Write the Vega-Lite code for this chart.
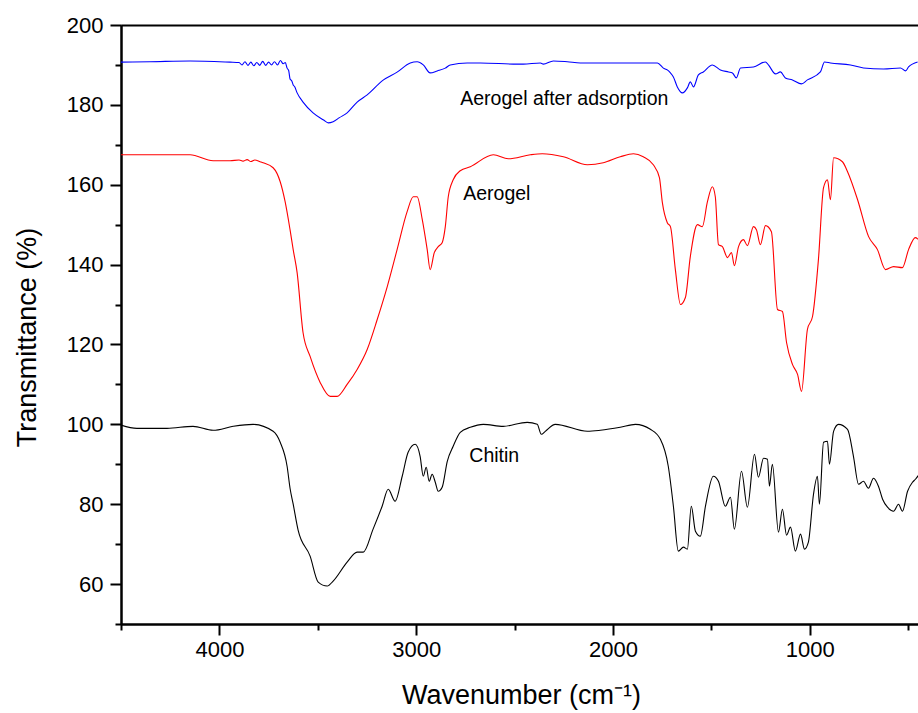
{
  "$schema": "https://vega.github.io/schema/vega-lite/v6.json",
  "width": 797,
  "height": 599,
  "autosize": {"type": "none"},
  "padding": {"left": 121, "top": 25, "right": 0, "bottom": 89},
  "background": "white",
  "config": {
    "view": {"stroke": null},
    "font": "Liberation Sans",
    "axis": {
      "domainColor": "black", "domainWidth": 2, "tickColor": "black", "tickWidth": 2,
      "labelColor": "black", "labelFont": "Liberation Sans", "labelFontSize": 22,
      "titleColor": "black", "titleFont": "Liberation Sans", "titleFontWeight": "normal", "titleFontSize": 27,
      "grid": false
    }
  },
  "datasets": {
    "spectra": [
      {"s":"Aerogel after adsorption","wn":4500,"t":190.7},{"s":"Aerogel after adsorption","wn":4353,"t":190.8},{"s":"Aerogel after adsorption","wn":4149,"t":191.0},{"s":"Aerogel after adsorption","wn":3946,"t":190.7},{"s":"Aerogel after adsorption","wn":3900,"t":190.6},{"s":"Aerogel after adsorption","wn":3885,"t":190.0},{"s":"Aerogel after adsorption","wn":3870,"t":190.8},{"s":"Aerogel after adsorption","wn":3855,"t":189.9},{"s":"Aerogel after adsorption","wn":3840,"t":190.7},{"s":"Aerogel after adsorption","wn":3825,"t":189.8},{"s":"Aerogel after adsorption","wn":3810,"t":190.6},{"s":"Aerogel after adsorption","wn":3795,"t":189.9},{"s":"Aerogel after adsorption","wn":3780,"t":190.9},{"s":"Aerogel after adsorption","wn":3765,"t":189.9},{"s":"Aerogel after adsorption","wn":3750,"t":190.7},{"s":"Aerogel after adsorption","wn":3735,"t":190.0},{"s":"Aerogel after adsorption","wn":3720,"t":190.8},{"s":"Aerogel after adsorption","wn":3705,"t":190.0},{"s":"Aerogel after adsorption","wn":3690,"t":191.1},{"s":"Aerogel after adsorption","wn":3676,"t":190.3},{"s":"Aerogel after adsorption","wn":3665,"t":190.6},{"s":"Aerogel after adsorption","wn":3656,"t":189.2},{"s":"Aerogel after adsorption","wn":3648,"t":188.6},{"s":"Aerogel after adsorption","wn":3641,"t":186.5},{"s":"Aerogel after adsorption","wn":3632,"t":186.0},{"s":"Aerogel after adsorption","wn":3625,"t":185.0},{"s":"Aerogel after adsorption","wn":3618,"t":184.6},{"s":"Aerogel after adsorption","wn":3605,"t":183.0},{"s":"Aerogel after adsorption","wn":3575,"t":180.7},{"s":"Aerogel after adsorption","wn":3524,"t":178.0},{"s":"Aerogel after adsorption","wn":3470,"t":176.2},{"s":"Aerogel after adsorption","wn":3447,"t":175.5},{"s":"Aerogel after adsorption","wn":3422,"t":175.8},{"s":"Aerogel after adsorption","wn":3390,"t":176.8},{"s":"Aerogel after adsorption","wn":3351,"t":178.0},{"s":"Aerogel after adsorption","wn":3300,"t":180.7},{"s":"Aerogel after adsorption","wn":3249,"t":182.5},{"s":"Aerogel after adsorption","wn":3168,"t":186.2},{"s":"Aerogel after adsorption","wn":3097,"t":188.2},{"s":"Aerogel after adsorption","wn":3030,"t":190.5},{"s":"Aerogel after adsorption","wn":2995,"t":190.8},{"s":"Aerogel after adsorption","wn":2964,"t":190.0},{"s":"Aerogel after adsorption","wn":2929,"t":188.0},{"s":"Aerogel after adsorption","wn":2893,"t":188.5},{"s":"Aerogel after adsorption","wn":2852,"t":189.2},{"s":"Aerogel after adsorption","wn":2827,"t":190.0},{"s":"Aerogel after adsorption","wn":2741,"t":190.5},{"s":"Aerogel after adsorption","wn":2674,"t":190.5},{"s":"Aerogel after adsorption","wn":2486,"t":190.2},{"s":"Aerogel after adsorption","wn":2456,"t":190.2},{"s":"Aerogel after adsorption","wn":2369,"t":190.5},{"s":"Aerogel after adsorption","wn":2354,"t":190.2},{"s":"Aerogel after adsorption","wn":2303,"t":191.0},{"s":"Aerogel after adsorption","wn":2232,"t":190.8},{"s":"Aerogel after adsorption","wn":2166,"t":190.5},{"s":"Aerogel after adsorption","wn":2064,"t":190.5},{"s":"Aerogel after adsorption","wn":1998,"t":190.5},{"s":"Aerogel after adsorption","wn":1825,"t":190.5},{"s":"Aerogel after adsorption","wn":1774,"t":190.5},{"s":"Aerogel after adsorption","wn":1744,"t":189.2},{"s":"Aerogel after adsorption","wn":1724,"t":188.75},{"s":"Aerogel after adsorption","wn":1708,"t":188.0},{"s":"Aerogel after adsorption","wn":1693,"t":187.0},{"s":"Aerogel after adsorption","wn":1673,"t":184.5},{"s":"Aerogel after adsorption","wn":1647,"t":183.0},{"s":"Aerogel after adsorption","wn":1622,"t":184.25},{"s":"Aerogel after adsorption","wn":1607,"t":185.75},{"s":"Aerogel after adsorption","wn":1591,"t":184.5},{"s":"Aerogel after adsorption","wn":1566,"t":187.5},{"s":"Aerogel after adsorption","wn":1541,"t":188.25},{"s":"Aerogel after adsorption","wn":1495,"t":190.0},{"s":"Aerogel after adsorption","wn":1454,"t":188.75},{"s":"Aerogel after adsorption","wn":1413,"t":188.25},{"s":"Aerogel after adsorption","wn":1393,"t":188.0},{"s":"Aerogel after adsorption","wn":1373,"t":186.75},{"s":"Aerogel after adsorption","wn":1352,"t":189.25},{"s":"Aerogel after adsorption","wn":1286,"t":189.5},{"s":"Aerogel after adsorption","wn":1225,"t":190.75},{"s":"Aerogel after adsorption","wn":1210,"t":190.0},{"s":"Aerogel after adsorption","wn":1174,"t":187.75},{"s":"Aerogel after adsorption","wn":1149,"t":188.25},{"s":"Aerogel after adsorption","wn":1124,"t":186.75},{"s":"Aerogel after adsorption","wn":1088,"t":186.25},{"s":"Aerogel after adsorption","wn":1042,"t":185.25},{"s":"Aerogel after adsorption","wn":1012,"t":186.25},{"s":"Aerogel after adsorption","wn":946,"t":188.25},{"s":"Aerogel after adsorption","wn":925,"t":190.75},{"s":"Aerogel after adsorption","wn":895,"t":190.5},{"s":"Aerogel after adsorption","wn":793,"t":190.0},{"s":"Aerogel after adsorption","wn":727,"t":189.25},{"s":"Aerogel after adsorption","wn":625,"t":189.0},{"s":"Aerogel after adsorption","wn":539,"t":189.25},{"s":"Aerogel after adsorption","wn":513,"t":188.5},{"s":"Aerogel after adsorption","wn":498,"t":189.5},{"s":"Aerogel after adsorption","wn":452,"t":190.75},
      {"s":"Aerogel","wn":4500,"t":167.5},{"s":"Aerogel","wn":4149,"t":167.5},{"s":"Aerogel","wn":4032,"t":166.0},{"s":"Aerogel","wn":3946,"t":166.0},{"s":"Aerogel","wn":3900,"t":166.2},{"s":"Aerogel","wn":3880,"t":165.9},{"s":"Aerogel","wn":3859,"t":166.3},{"s":"Aerogel","wn":3840,"t":165.8},{"s":"Aerogel","wn":3820,"t":166.2},{"s":"Aerogel","wn":3793,"t":165.75},{"s":"Aerogel","wn":3778,"t":165.5},{"s":"Aerogel","wn":3727,"t":164.25},{"s":"Aerogel","wn":3691,"t":160.75},{"s":"Aerogel","wn":3666,"t":155.75},{"s":"Aerogel","wn":3641,"t":148.75},{"s":"Aerogel","wn":3625,"t":143.75},{"s":"Aerogel","wn":3605,"t":138.0},{"s":"Aerogel","wn":3575,"t":123.0},{"s":"Aerogel","wn":3539,"t":117.0},{"s":"Aerogel","wn":3488,"t":110.5},{"s":"Aerogel","wn":3437,"t":107.0},{"s":"Aerogel","wn":3402,"t":107.0},{"s":"Aerogel","wn":3351,"t":110.0},{"s":"Aerogel","wn":3300,"t":113.75},{"s":"Aerogel","wn":3249,"t":118.75},{"s":"Aerogel","wn":3198,"t":126.25},{"s":"Aerogel","wn":3147,"t":134.5},{"s":"Aerogel","wn":3097,"t":143.75},{"s":"Aerogel","wn":3046,"t":153.25},{"s":"Aerogel","wn":3015,"t":157.0},{"s":"Aerogel","wn":2995,"t":157.0},{"s":"Aerogel","wn":2969,"t":151.25},{"s":"Aerogel","wn":2944,"t":143.75},{"s":"Aerogel","wn":2929,"t":138.75},{"s":"Aerogel","wn":2908,"t":143.0},{"s":"Aerogel","wn":2888,"t":144.5},{"s":"Aerogel","wn":2868,"t":145.5},{"s":"Aerogel","wn":2852,"t":149.5},{"s":"Aerogel","wn":2837,"t":157.0},{"s":"Aerogel","wn":2812,"t":161.25},{"s":"Aerogel","wn":2776,"t":163.5},{"s":"Aerogel","wn":2725,"t":164.5},{"s":"Aerogel","wn":2608,"t":167.5},{"s":"Aerogel","wn":2532,"t":166.5},{"s":"Aerogel","wn":2420,"t":167.5},{"s":"Aerogel","wn":2359,"t":167.75},{"s":"Aerogel","wn":2252,"t":167.0},{"s":"Aerogel","wn":2130,"t":165.0},{"s":"Aerogel","wn":2049,"t":165.5},{"s":"Aerogel","wn":1963,"t":167.0},{"s":"Aerogel","wn":1896,"t":167.75},{"s":"Aerogel","wn":1846,"t":167.0},{"s":"Aerogel","wn":1795,"t":165.0},{"s":"Aerogel","wn":1764,"t":161.75},{"s":"Aerogel","wn":1749,"t":155.5},{"s":"Aerogel","wn":1724,"t":150.5},{"s":"Aerogel","wn":1708,"t":149.5},{"s":"Aerogel","wn":1683,"t":138.75},{"s":"Aerogel","wn":1657,"t":130.0},{"s":"Aerogel","wn":1632,"t":131.75},{"s":"Aerogel","wn":1607,"t":142.0},{"s":"Aerogel","wn":1571,"t":150.0},{"s":"Aerogel","wn":1546,"t":149.5},{"s":"Aerogel","wn":1520,"t":155.75},{"s":"Aerogel","wn":1495,"t":159.5},{"s":"Aerogel","wn":1480,"t":157.0},{"s":"Aerogel","wn":1464,"t":145.0},{"s":"Aerogel","wn":1444,"t":144.5},{"s":"Aerogel","wn":1418,"t":141.75},{"s":"Aerogel","wn":1398,"t":143.0},{"s":"Aerogel","wn":1383,"t":139.75},{"s":"Aerogel","wn":1362,"t":144.5},{"s":"Aerogel","wn":1337,"t":146.25},{"s":"Aerogel","wn":1317,"t":144.75},{"s":"Aerogel","wn":1286,"t":149.5},{"s":"Aerogel","wn":1271,"t":148.75},{"s":"Aerogel","wn":1251,"t":145.0},{"s":"Aerogel","wn":1225,"t":149.75},{"s":"Aerogel","wn":1195,"t":148.25},{"s":"Aerogel","wn":1164,"t":128.75},{"s":"Aerogel","wn":1139,"t":128.25},{"s":"Aerogel","wn":1118,"t":120.5},{"s":"Aerogel","wn":1088,"t":115.0},{"s":"Aerogel","wn":1062,"t":112.5},{"s":"Aerogel","wn":1042,"t":108.25},{"s":"Aerogel","wn":1012,"t":123.75},{"s":"Aerogel","wn":986,"t":127.0},{"s":"Aerogel","wn":956,"t":141.25},{"s":"Aerogel","wn":930,"t":159.25},{"s":"Aerogel","wn":910,"t":161.25},{"s":"Aerogel","wn":895,"t":156.25},{"s":"Aerogel","wn":879,"t":166.75},{"s":"Aerogel","wn":834,"t":165.75},{"s":"Aerogel","wn":808,"t":163.25},{"s":"Aerogel","wn":757,"t":156.25},{"s":"Aerogel","wn":701,"t":147.0},{"s":"Aerogel","wn":656,"t":143.75},{"s":"Aerogel","wn":615,"t":138.75},{"s":"Aerogel","wn":574,"t":139.5},{"s":"Aerogel","wn":529,"t":139.25},{"s":"Aerogel","wn":498,"t":143.75},{"s":"Aerogel","wn":463,"t":146.75},{"s":"Aerogel","wn":447,"t":146.25},
      {"s":"Chitin","wn":4500,"t":99.8},{"s":"Chitin","wn":4419,"t":99.0},{"s":"Chitin","wn":4266,"t":99.0},{"s":"Chitin","wn":4134,"t":99.5},{"s":"Chitin","wn":4032,"t":98.5},{"s":"Chitin","wn":3930,"t":99.5},{"s":"Chitin","wn":3829,"t":100.0},{"s":"Chitin","wn":3727,"t":98.25},{"s":"Chitin","wn":3691,"t":95.5},{"s":"Chitin","wn":3656,"t":89.5},{"s":"Chitin","wn":3641,"t":84.0},{"s":"Chitin","wn":3625,"t":80.0},{"s":"Chitin","wn":3600,"t":73.5},{"s":"Chitin","wn":3539,"t":67.0},{"s":"Chitin","wn":3498,"t":60.5},{"s":"Chitin","wn":3452,"t":59.5},{"s":"Chitin","wn":3422,"t":60.75},{"s":"Chitin","wn":3351,"t":65.5},{"s":"Chitin","wn":3300,"t":68.0},{"s":"Chitin","wn":3269,"t":68.0},{"s":"Chitin","wn":3219,"t":73.75},{"s":"Chitin","wn":3173,"t":79.5},{"s":"Chitin","wn":3142,"t":83.75},{"s":"Chitin","wn":3107,"t":80.75},{"s":"Chitin","wn":3071,"t":87.0},{"s":"Chitin","wn":3041,"t":93.0},{"s":"Chitin","wn":3005,"t":95.0},{"s":"Chitin","wn":2980,"t":92.0},{"s":"Chitin","wn":2964,"t":87.0},{"s":"Chitin","wn":2949,"t":89.25},{"s":"Chitin","wn":2934,"t":85.75},{"s":"Chitin","wn":2919,"t":87.5},{"s":"Chitin","wn":2903,"t":85.5},{"s":"Chitin","wn":2888,"t":83.25},{"s":"Chitin","wn":2868,"t":84.25},{"s":"Chitin","wn":2842,"t":90.75},{"s":"Chitin","wn":2812,"t":94.5},{"s":"Chitin","wn":2776,"t":98.0},{"s":"Chitin","wn":2725,"t":99.25},{"s":"Chitin","wn":2659,"t":100.0},{"s":"Chitin","wn":2558,"t":99.5},{"s":"Chitin","wn":2436,"t":100.5},{"s":"Chitin","wn":2385,"t":100.0},{"s":"Chitin","wn":2364,"t":97.5},{"s":"Chitin","wn":2344,"t":98.25},{"s":"Chitin","wn":2293,"t":100.0},{"s":"Chitin","wn":2130,"t":98.25},{"s":"Chitin","wn":2064,"t":98.5},{"s":"Chitin","wn":1963,"t":99.25},{"s":"Chitin","wn":1886,"t":100.0},{"s":"Chitin","wn":1810,"t":98.75},{"s":"Chitin","wn":1759,"t":96.25},{"s":"Chitin","wn":1719,"t":89.5},{"s":"Chitin","wn":1693,"t":79.5},{"s":"Chitin","wn":1668,"t":68.25},{"s":"Chitin","wn":1642,"t":69.25},{"s":"Chitin","wn":1622,"t":68.75},{"s":"Chitin","wn":1602,"t":79.5},{"s":"Chitin","wn":1581,"t":73.25},{"s":"Chitin","wn":1556,"t":72.0},{"s":"Chitin","wn":1530,"t":79.5},{"s":"Chitin","wn":1490,"t":87.0},{"s":"Chitin","wn":1464,"t":85.75},{"s":"Chitin","wn":1429,"t":79.5},{"s":"Chitin","wn":1403,"t":81.75},{"s":"Chitin","wn":1383,"t":73.75},{"s":"Chitin","wn":1347,"t":88.25},{"s":"Chitin","wn":1317,"t":79.25},{"s":"Chitin","wn":1281,"t":92.5},{"s":"Chitin","wn":1261,"t":86.75},{"s":"Chitin","wn":1235,"t":91.5},{"s":"Chitin","wn":1215,"t":91.25},{"s":"Chitin","wn":1205,"t":84.5},{"s":"Chitin","wn":1190,"t":90.0},{"s":"Chitin","wn":1159,"t":73.0},{"s":"Chitin","wn":1139,"t":78.75},{"s":"Chitin","wn":1118,"t":72.25},{"s":"Chitin","wn":1098,"t":74.25},{"s":"Chitin","wn":1073,"t":68.25},{"s":"Chitin","wn":1047,"t":72.5},{"s":"Chitin","wn":1027,"t":68.75},{"s":"Chitin","wn":1007,"t":70.5},{"s":"Chitin","wn":981,"t":82.5},{"s":"Chitin","wn":961,"t":87.0},{"s":"Chitin","wn":951,"t":80.0},{"s":"Chitin","wn":930,"t":95.5},{"s":"Chitin","wn":910,"t":95.75},{"s":"Chitin","wn":900,"t":90.0},{"s":"Chitin","wn":879,"t":98.25},{"s":"Chitin","wn":854,"t":100.0},{"s":"Chitin","wn":808,"t":98.75},{"s":"Chitin","wn":778,"t":92.0},{"s":"Chitin","wn":752,"t":85.0},{"s":"Chitin","wn":727,"t":85.75},{"s":"Chitin","wn":702,"t":84.0},{"s":"Chitin","wn":676,"t":86.5},{"s":"Chitin","wn":651,"t":84.5},{"s":"Chitin","wn":630,"t":81.25},{"s":"Chitin","wn":605,"t":79.25},{"s":"Chitin","wn":574,"t":78.25},{"s":"Chitin","wn":549,"t":80.0},{"s":"Chitin","wn":529,"t":78.25},{"s":"Chitin","wn":503,"t":83.25},{"s":"Chitin","wn":478,"t":85.5},{"s":"Chitin","wn":463,"t":86.25},{"s":"Chitin","wn":447,"t":87.25}
    ],
    "labels": [
      {"label":"Aerogel after adsorption","wn":2776,"t":180.0},
      {"label":"Aerogel","wn":2761,"t":156.25},
      {"label":"Chitin","wn":2730,"t":90.5}
    ]
  },
  "resolve": {"axis": {"x": "independent", "y": "independent"}},
  "layer": [
    {
      "data": {"name": "spectra"},
      "mark": {"type": "line", "strokeWidth": 1.1, "clip": true, "interpolate": "monotone"},
      "encoding": {
        "x": {"field": "wn", "type": "quantitative",
              "scale": {"domain": [450, 4500], "reverse": true, "nice": false, "zero": false},
              "axis": {"orient": "bottom", "values": [4000, 3000, 2000, 1000], "format": "d", "tickSize": 11, "labelPadding": 4,
                       "title": "Wavenumber (cm⁻¹)", "titleX": 400, "titleY": 71, "titleBaseline": "middle", "titleAlign": "center"}},
        "y": {"field": "t", "type": "quantitative",
              "scale": {"domain": [50, 200], "nice": false, "zero": false},
              "axis": {"orient": "left", "values": [60, 80, 100, 120, 140, 160, 180, 200], "tickSize": 11, "labelPadding": 7,
                       "title": "Transmittance (%)", "titleX": -94, "titleY": 312, "titleBaseline": "middle", "titleAlign": "center", "titleAngle": -90}},
        "color": {"field": "s", "type": "nominal",
                  "scale": {"domain": ["Aerogel after adsorption", "Aerogel", "Chitin"], "range": ["#0000ff", "#ff0000", "#000000"]},
                  "legend": null}
      }
    },
    {
      "data": {"name": "labels"},
      "mark": {"type": "text", "align": "left", "baseline": "alphabetic", "fontSize": 19.5, "font": "Liberation Sans", "color": "#000000"},
      "encoding": {
        "x": {"field": "wn", "type": "quantitative",
              "scale": {"domain": [450, 4500], "reverse": true, "nice": false, "zero": false},
              "axis": {"orient": "bottom", "values": [4500, 3500, 2500, 1500, 500], "labels": false, "tickSize": 6, "title": null, "domain": true}},
        "y": {"field": "t", "type": "quantitative",
              "scale": {"domain": [50, 200], "nice": false, "zero": false},
              "axis": {"orient": "left", "values": [50, 70, 90, 110, 130, 150, 170, 190], "labels": false, "tickSize": 6, "title": null, "domain": true}},
        "text": {"field": "label"}
      }
    },
    {
      "data": {"name": "labels"},
      "mark": {"type": "text", "opacity": 0},
      "encoding": {
        "x": {"field": "wn", "type": "quantitative",
              "scale": {"domain": [450, 4500], "reverse": true, "nice": false, "zero": false},
              "axis": {"orient": "top", "labels": false, "ticks": false, "title": null, "domain": true}},
        "y": {"field": "t", "type": "quantitative",
              "scale": {"domain": [50, 200], "nice": false, "zero": false},
              "axis": null},
        "text": {"field": "label"}
      }
    }
  ]
}
